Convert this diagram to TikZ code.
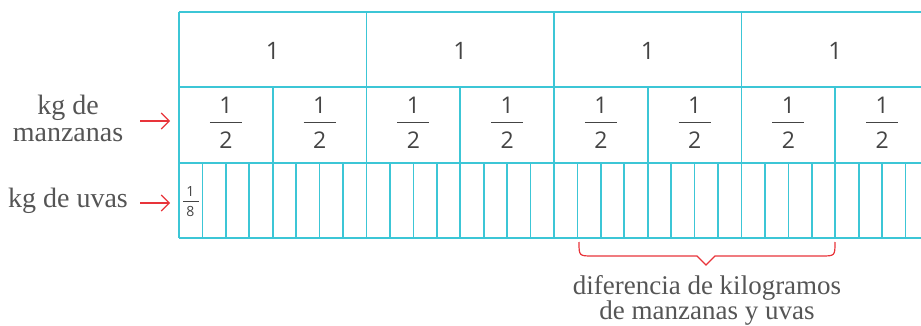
\documentclass[tikz,border=0pt]{standalone}
\usepackage{fontspec}
\setmainfont{Liberation Serif}
\newfontfamily\digitfont{Open Sans}
\usetikzlibrary{arrows.meta}
\definecolor{gridc}{HTML}{3CC6D6}
\definecolor{txt}{HTML}{555555}
\definecolor{digit}{HTML}{444444}
\definecolor{redc}{HTML}{E8343A}
\tikzset{
  gridline/.style={draw=gridc, line width=1.7pt},
  label/.style={text=txt, font=\fontsize{28}{29}\selectfont, align=center, inner sep=0pt},
  biglabel/.style={text=txt, font=\fontsize{27}{28}\selectfont, align=center, inner sep=0pt},
  big/.style={text=digit, font=\digitfont\fontsize{24}{24}\selectfont, inner sep=0pt},
  frac/.style={text=digit, font=\digitfont\fontsize{23}{23}\selectfont, inner sep=0pt},
  small/.style={text=digit, font=\digitfont\fontsize{14}{14}\selectfont, inner sep=0pt},
  redarrow/.style={draw=redc, line width=1.1pt, -{Straight Barb[length=8pt,width=16pt,line width=1.1pt]}},
}
\begin{document}
\begin{tikzpicture}[x=1pt,y=-1pt]
\useasboundingbox (0,0) rectangle (921,326);
\begin{scope}
\clip (0,0) rectangle (921,326);
% grid
\pgfmathsetmacro{\u}{187.5}
\foreach \y in {12,87,163,238} \draw[gridline] (179,\y) -- (930,\y);
\foreach \i in {0,...,4} \draw[gridline] (179+\i*\u,12) -- (179+\i*\u,238);
\foreach \i in {1,3,5,7} \draw[gridline] (179+\i*\u/2,87) -- (179+\i*\u/2,238);
\foreach \i in {1,...,31} \draw[gridline] (179+\i*\u/8,163) -- (179+\i*\u/8,238);
% top row
\foreach \i/\n in {0/a,1/b,2/c,3/d}
  \node[big] (one\n) at (179+\i*\u+\u/2,51) {1};
% halves
\foreach \i in {0,...,7} {
  \node[frac] (hn\i) at (179+\i*\u/2+\u/4,105) {1};
  \node[frac] (hd\i) at (179+\i*\u/2+\u/4,140) {2};
  \draw[digit, line width=1.1pt] (179+\i*\u/2+\u/4-16,122.5) -- (179+\i*\u/2+\u/4+16,122.5);
}
\end{scope}
% eighth
\node[small] (en) at (190.5,191.5) {1};
\node[small] (ed) at (190.5,211.5) {8};
\draw[digit, line width=0.8pt] (183,201.5) -- (198.5,201.5);
% labels
\node[label] (lm) at (68,118) {kg de\\[-2pt]manzanas};
\node[label] (lu) at (68,201) {kg de uvas};
\coordinate (am) at (170,121);
\coordinate (au) at (170,203);
\draw[redarrow] (140,121) -- (am);
\draw[redarrow] (140,203) -- (au);
% brace
\draw[draw=redc, line width=1.2pt, line join=miter]
  (579,242) .. controls (579,256) .. (593,256) -- (697,256) -- (706,265) -- (715,256)
  -- (821,256) .. controls (835,256) .. (835,242);
\node[biglabel] (dif) at (707,300) {diferencia de kilogramos\\[-3pt]de manzanas y uvas};
\end{tikzpicture}
\end{document}
